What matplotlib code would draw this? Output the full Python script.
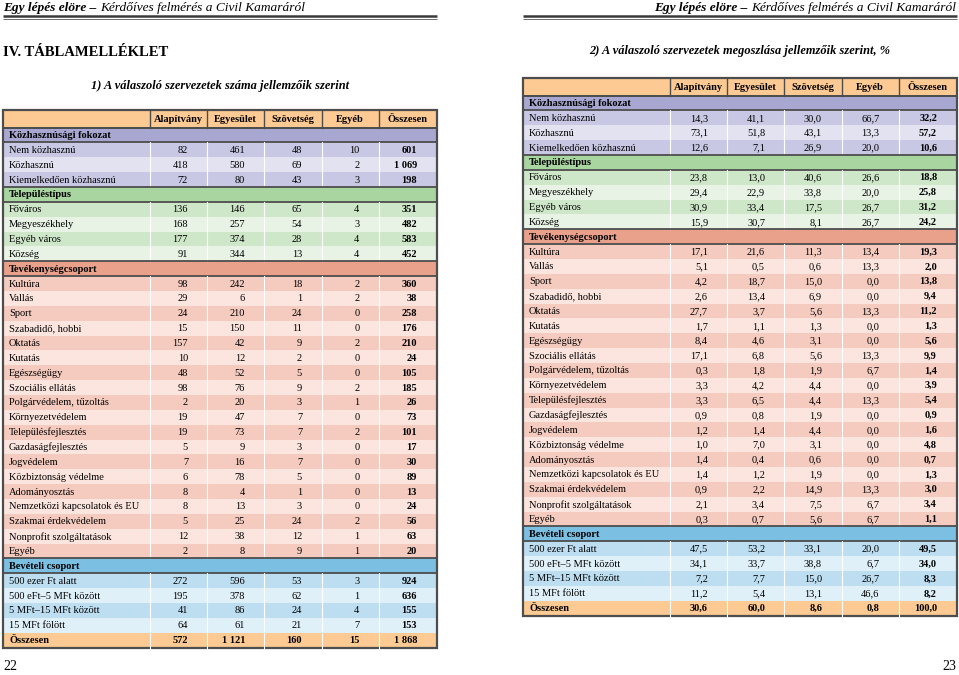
import matplotlib.pyplot as plt
from matplotlib.patches import Rectangle

plt.rcParams['font.family'] = ['Liberation Serif', 'DejaVu Serif']

columns = ['Alapítvány', 'Egyesület', 'Szövetség', 'Egyéb', 'Összesen']

sec_names = ['Közhasznúsági fokozat', 'Településtípus', 'Tevékenységcsoport', 'Bevételi csoport']

kozh_labels = ['Nem közhasznú', 'Közhasznú', 'Kiemelkedően közhasznú']
kozh_counts = [[82, 461, 48, 10, 601],
               [418, 580, 69, 2, 1069],
               [72, 80, 43, 3, 198]]
kozh_pct = [[14.3, 41.1, 30.0, 66.7, 32.2],
            [73.1, 51.8, 43.1, 13.3, 57.2],
            [12.6, 7.1, 26.9, 20.0, 10.6]]

telep_labels = ['Főváros', 'Megyeszékhely', 'Egyéb város', 'Község']
telep_counts = [[136, 146, 65, 4, 351],
                [168, 257, 54, 3, 482],
                [177, 374, 28, 4, 583],
                [91, 344, 13, 4, 452]]
telep_pct = [[23.8, 13.0, 40.6, 26.6, 18.8],
             [29.4, 22.9, 33.8, 20.0, 25.8],
             [30.9, 33.4, 17.5, 26.7, 31.2],
             [15.9, 30.7, 8.1, 26.7, 24.2]]

tev_labels = ['Kultúra', 'Vallás', 'Sport', 'Szabadidő, hobbi', 'Oktatás', 'Kutatás',
              'Egészségügy', 'Szociális ellátás', 'Polgárvédelem, tűzoltás',
              'Környezetvédelem', 'Településfejlesztés', 'Gazdaságfejlesztés',
              'Jogvédelem', 'Közbiztonság védelme', 'Adományosztás',
              'Nemzetközi kapcsolatok és EU', 'Szakmai érdekvédelem',
              'Nonprofit szolgáltatások', 'Egyéb']
tev_counts = [[98, 242, 18, 2, 360], [29, 6, 1, 2, 38], [24, 210, 24, 0, 258],
              [15, 150, 11, 0, 176], [157, 42, 9, 2, 210], [10, 12, 2, 0, 24],
              [48, 52, 5, 0, 105], [98, 76, 9, 2, 185], [2, 20, 3, 1, 26],
              [19, 47, 7, 0, 73], [19, 73, 7, 2, 101], [5, 9, 3, 0, 17],
              [7, 16, 7, 0, 30], [6, 78, 5, 0, 89], [8, 4, 1, 0, 13],
              [8, 13, 3, 0, 24], [5, 25, 24, 2, 56], [12, 38, 12, 1, 63],
              [2, 8, 9, 1, 20]]
tev_pct = [[17.1, 21.6, 11.3, 13.4, 19.3], [5.1, 0.5, 0.6, 13.3, 2.0],
           [4.2, 18.7, 15.0, 0.0, 13.8], [2.6, 13.4, 6.9, 0.0, 9.4],
           [27.7, 3.7, 5.6, 13.3, 11.2], [1.7, 1.1, 1.3, 0.0, 1.3],
           [8.4, 4.6, 3.1, 0.0, 5.6], [17.1, 6.8, 5.6, 13.3, 9.9],
           [0.3, 1.8, 1.9, 6.7, 1.4], [3.3, 4.2, 4.4, 0.0, 3.9],
           [3.3, 6.5, 4.4, 13.3, 5.4], [0.9, 0.8, 1.9, 0.0, 0.9],
           [1.2, 1.4, 4.4, 0.0, 1.6], [1.0, 7.0, 3.1, 0.0, 4.8],
           [1.4, 0.4, 0.6, 0.0, 0.7], [1.4, 1.2, 1.9, 0.0, 1.3],
           [0.9, 2.2, 14.9, 13.3, 3.0], [2.1, 3.4, 7.5, 6.7, 3.4],
           [0.3, 0.7, 5.6, 6.7, 1.1]]

bev_labels = ['500 ezer Ft alatt', '500 eFt–5 MFt között', '5 MFt–15 MFt között', '15 MFt fölött']
bev_counts = [[272, 596, 53, 3, 924],
              [195, 378, 62, 1, 636],
              [41, 86, 24, 4, 155],
              [64, 61, 21, 7, 153]]
bev_pct = [[47.5, 53.2, 33.1, 20.0, 49.5],
           [34.1, 33.7, 38.8, 6.7, 34.0],
           [7.2, 7.7, 15.0, 26.7, 8.3],
           [11.2, 5.4, 13.1, 46.6, 8.2]]

total_label = 'Összesen'
total_counts = [572, 1121, 160, 15, 1868]
total_pct = [30.6, 60.0, 8.6, 0.8, 100.0]

# section colours: (header band, dark row, light row)
sec_colors = [('#a8a7d1', '#c9c8e4', '#e3e2f1'),
              ('#a9d5a0', '#cfe7c9', '#e8f3e5'),
              ('#e9a18b', '#f4cbbe', '#fbe5de'),
              ('#7bbfe2', '#bddef1', '#e0f0f9')]
head_color = '#fcca92'
edge = '#4d4d4d'

col_edges = [0, 147, 204, 261, 318.5, 376, 433.5]
row_h = 14.86
head_h = 17.5
fs = 7.5


def fmt_count(v):
    return f'{v:,}'.replace(',', ' ')


def fmt_pct(v):
    return f'{v:.1f}'.replace('.', ',')


def draw_table(ax, x0, y0, sections, totals, fmt):
    w = col_edges[-1]
    # header row
    ax.add_patch(Rectangle((x0, y0), w, head_h, fc=head_color, ec='none'))
    for i, c in enumerate(columns):
        xc = x0 + (col_edges[i + 1] + col_edges[i + 2]) / 2
        ax.text(xc, y0 + head_h / 2 + 0.5, c, ha='center', va='center',
                fontsize=fs, fontweight='bold')
        ax.plot([x0 + col_edges[i + 1]] * 2, [y0, y0 + head_h], color=edge, lw=1)
    y = y0 + head_h
    for (name, labels, vals), (c_head, c_dark, c_light) in zip(sections, sec_colors):
        ax.add_patch(Rectangle((x0, y), w, row_h, fc=c_head, ec='none'))
        ax.text(x0 + 6, y + row_h / 2 + 0.5, name, ha='left', va='center',
                fontsize=fs, fontweight='bold')
        ax.plot([x0, x0 + w], [y, y], color=edge, lw=1.3)
        ax.plot([x0, x0 + w], [y + row_h, y + row_h], color=edge, lw=1.3)
        y += row_h
        for k, (lab, row) in enumerate(zip(labels, vals)):
            ax.add_patch(Rectangle((x0, y), w, row_h,
                                   fc=c_dark if k % 2 == 0 else c_light, ec='none'))
            ax.text(x0 + 6, y + row_h / 2 + 0.5, lab, ha='left', va='center', fontsize=fs)
            for i, v in enumerate(row):
                ax.text(x0 + col_edges[i + 1] + 38, y + row_h / 2 + 0.5, fmt(v),
                        ha='right', va='center', fontsize=fs,
                        fontweight='bold' if i == 4 else 'normal')
            for e in col_edges[1:-1]:
                ax.plot([x0 + e] * 2, [y, y + row_h], color='white', lw=0.8)
            y += row_h
    # total row
    ax.add_patch(Rectangle((x0, y), w, row_h, fc=head_color, ec='none'))
    ax.text(x0 + 6, y + row_h / 2 + 0.5, total_label, ha='left', va='center',
            fontsize=fs, fontweight='bold')
    for i, v in enumerate(totals):
        ax.text(x0 + col_edges[i + 1] + 38, y + row_h / 2 + 0.5, fmt(v),
                ha='right', va='center', fontsize=fs, fontweight='bold')
    for e in col_edges[1:-1]:
        ax.plot([x0 + e] * 2, [y, y + row_h], color='white', lw=0.8)
    y += row_h
    ax.add_patch(Rectangle((x0, y0), w, y - y0, fc='none', ec=edge, lw=1.6))
    ax.plot([x0, x0 + w], [y0 + head_h, y0 + head_h], color=edge, lw=1.3)


fig = plt.figure(figsize=(9.59, 6.75), dpi=100)
ax = fig.add_axes([0, 0, 1, 1])
ax.set_xlim(0, 959)
ax.set_ylim(675, 0)
ax.axis('off')

# page headers
hfs = 9.6
for side in ['left', 'right']:
    if side == 'left':
        t = ax.text(3, 8, 'Egy lépés elöre – ', ha='left', va='center', fontsize=hfs,
                    fontweight='bold', fontstyle='italic')
        ax.annotate('Kérdőíves felmérés a Civil Kamaráról', xycoords=t,
                    xy=(1, 0.5), va='center', ha='left', fontsize=hfs, fontstyle='italic')
        lx = (3, 436.5)
    else:
        t = ax.text(956, 8, 'Kérdőíves felmérés a Civil Kamaráról', ha='right', va='center',
                    fontsize=hfs, fontstyle='italic')
        ax.annotate('Egy lépés elöre – ', xycoords=t, xy=(0, 0.5), va='center',
                    ha='right', fontsize=hfs, fontweight='bold', fontstyle='italic')
        lx = (523, 957)
    ax.plot(lx, [16, 16], color='#3a3a3a', lw=1.8, solid_capstyle='butt')
    ax.plot(lx, [18.8, 18.8], color='#6a6a6a', lw=0.7, solid_capstyle='butt')

ax.text(3, 53, 'IV. TÁBLAMELLÉKLET', ha='left', va='center', fontsize=10.5, fontweight='bold')
ax.text(220, 86, '1) A válaszoló szervezetek száma jellemzőik szerint', ha='center',
        va='center', fontsize=8.9, fontweight='bold', fontstyle='italic')
ax.text(740, 51, '2) A válaszoló szervezetek megoszlása jellemzőik szerint, %', ha='center',
        va='center', fontsize=8.9, fontweight='bold', fontstyle='italic')

left_sections = [(sec_names[0], kozh_labels, kozh_counts),
                 (sec_names[1], telep_labels, telep_counts),
                 (sec_names[2], tev_labels, tev_counts),
                 (sec_names[3], bev_labels, bev_counts)]
right_sections = [(sec_names[0], kozh_labels, kozh_pct),
                  (sec_names[1], telep_labels, telep_pct),
                  (sec_names[2], tev_labels, tev_pct),
                  (sec_names[3], bev_labels, bev_pct)]

draw_table(ax, 3, 110, left_sections, total_counts, fmt_count)
draw_table(ax, 523, 78, right_sections, total_pct, fmt_pct)

ax.text(3, 667, '22', ha='left', va='center', fontsize=10)
ax.text(956, 667, '23', ha='right', va='center', fontsize=10)

fig.savefig('out.png', dpi=100)
